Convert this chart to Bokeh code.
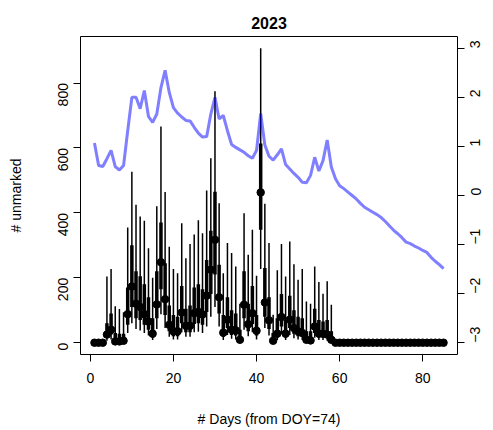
import math
from bokeh.plotting import figure
from bokeh.models import Range1d, LinearAxis, FixedTicker, ColumnDataSource
from bokeh.embed import file_html
from bokeh.resources import INLINE

# ---- data ----
days = list(range(1, 86))
mean_n = [0, 0, 0, 25, 40, 4, 4, 6, 88, 173,
          120, 110, 88, 65, 28, 118, 248, 134, 55, 35,
          35, 93, 52, 52, 91, 95, 87, 145, 225, 317,
          140, 31, 71, 40, 38, 9, 117, 57, 91, 37,
          463, 124, 69, 6, 28, 79, 28, 71, 45, 35,
          30, 9, 7, 50, 28, 28, 25, 9] + [0] * 27
lo95 = [0, 0, 0, 6, 10, 0, 0, 0, 30, 60,
        42, 38, 30, 22, 8, 42, 88, 45, 18, 10,
        10, 32, 18, 18, 32, 34, 30, 50, 80, 110,
        50, 8, 24, 12, 10, 0, 40, 20, 32, 10,
        227, 45, 22, 0, 8, 26, 8, 24, 14, 10,
        8, 0, 0, 15, 8, 8, 6, 0] + [0] * 27
lo50 = [0, 0, 0, 15, 25, 2, 2, 3, 55, 110,
        75, 70, 55, 40, 16, 75, 165, 85, 35, 20,
        20, 60, 32, 32, 58, 60, 55, 95, 150, 210,
        90, 18, 45, 24, 22, 4, 75, 35, 58, 22,
        348, 80, 42, 3, 16, 50, 16, 45, 28, 20,
        18, 4, 3, 30, 16, 16, 15, 4] + [0] * 27
hi50 = [0, 0, 0, 60, 90, 30, 28, 28, 170, 300,
        220, 205, 180, 140, 75, 220, 370, 245, 115, 85,
        80, 175, 105, 115, 170, 180, 165, 255, 345, 465,
        240, 85, 140, 100, 90, 40, 220, 120, 175, 85,
        614, 230, 140, 30, 75, 150, 70, 145, 100, 80,
        75, 35, 35, 105, 70, 65, 70, 35] + [0] * 27
hi95 = [0, 0, 0, 204, 227, 112, 104, 94, 355, 527,
        425, 389, 376, 291, 200, 420, 666, 464, 296, 227,
        214, 368, 260, 304, 333, 377, 337, 469, 568, 775,
        430, 214, 307, 276, 235, 120, 399, 271, 348, 206,
        907, 428, 307, 86, 223, 304, 204, 312, 242, 194,
        227, 127, 120, 235, 187, 151, 189, 117] + [0] * 27
z_line = [1.07, 0.61, 0.59, 0.75, 0.92, 0.59, 0.52, 0.61, 1.32, 2.0,
          2.0, 1.77, 2.14, 1.61, 1.49, 1.66, 2.2, 2.55, 2.1, 1.79,
          1.68, 1.6, 1.53, 1.52, 1.39, 1.27, 1.19, 1.2, 1.66, 2.0,
          1.56, 1.63, 1.32, 1.04, 0.98, 0.93, 0.88, 0.81, 0.76, 0.92,
          1.67, 1.03, 0.8, 0.72, 0.83, 0.95, 0.63, 0.54, 0.45, 0.37,
          0.27, 0.26, 0.41, 0.78, 0.5, 0.71, 1.13, 0.58, 0.34, 0.2,
          0.14, 0.07, 0.0, -0.07, -0.16, -0.24, -0.29, -0.34, -0.39, -0.45,
          -0.53, -0.62, -0.71, -0.78, -0.86, -0.95, -0.98, -1.03, -1.07, -1.12,
          -1.16, -1.26, -1.34, -1.41, -1.49]
x_ticks = [0, 20, 40, 60, 80]
y_ticks = [0, 200, 400, 600, 800]
z_ticks = [-3, -2, -1, 0, 1, 2, 3]
z_tick_labels = ["\u22123", "\u22122", "\u22121", "0", "1", "2", "3"]
title_text = "2023"
x_label = "# Days (from DOY=74)"
y_label = "# unmarked"

FONT = "Liberation Sans"

src = ColumnDataSource(dict(day=days, m=mean_n, lo95=lo95, hi95=hi95,
                            lo50=lo50, hi50=hi50))

p = figure(width=493, height=430, output_backend="svg", toolbar_location=None,
           x_range=Range1d(-2.36, 88.36), y_range=Range1d(-36.3, 943.3),
           min_border_left=80, min_border_right=36, min_border_top=36,
           min_border_bottom=76, title=title_text)
p.extra_y_ranges = {"z": Range1d(-3.24, 3.24)}

p.title.align = "center"
p.title.text_font = FONT
p.title.text_font_size = "16px"
p.title.text_font_style = "bold"
p.title.text_color = "black"
p.title.standoff = 15

p.xgrid.visible = False
p.ygrid.visible = False
p.outline_line_color = "black"
p.outline_line_width = 1
p.background_fill_color = "white"
p.border_fill_color = "white"

# bars
p.segment(x0="day", y0="lo95", x1="day", y1="hi95", source=src,
          line_color="black", line_width=1.5)
p.segment(x0="day", y0="lo50", x1="day", y1="hi50", source=src,
          line_color="black", line_width=3.5)
p.scatter(x="day", y="m", source=src, size=7.5, color="black")

# blue line on right scale
p.line(days, z_line, y_range_name="z", line_color="#0000ff", line_alpha=0.5,
       line_width=3)

def style_axis(ax):
    ax.axis_line_color = None
    ax.major_tick_line_color = "black"
    ax.major_tick_out = 7
    ax.major_tick_in = 0
    ax.minor_tick_line_color = None
    ax.major_label_text_font = FONT
    ax.major_label_text_font_size = "14px"
    ax.major_label_text_color = "black"
    ax.axis_label_text_font = FONT
    ax.axis_label_text_font_size = "14px"
    ax.axis_label_text_font_style = "normal"
    ax.axis_label_text_color = "black"

xa = p.xaxis[0]
style_axis(xa)
xa.ticker = FixedTicker(ticks=x_ticks)
xa.axis_label = x_label
xa.major_label_standoff = 11
xa.axis_label_standoff = 25

ya = p.yaxis[0]
style_axis(ya)
ya.ticker = FixedTicker(ticks=y_ticks)
ya.axis_label = y_label
ya.major_label_orientation = math.pi / 2
ya.major_label_standoff = 10
ya.axis_label_standoff = 27

za = LinearAxis(y_range_name="z", ticker=FixedTicker(ticks=z_ticks))
style_axis(za)
za.major_label_orientation = math.pi / 2
za.major_label_standoff = 11
za.major_label_overrides = dict(zip(z_ticks, z_tick_labels))
p.add_layout(za, "right")

open("out.html", "w").write(file_html(p, INLINE))
